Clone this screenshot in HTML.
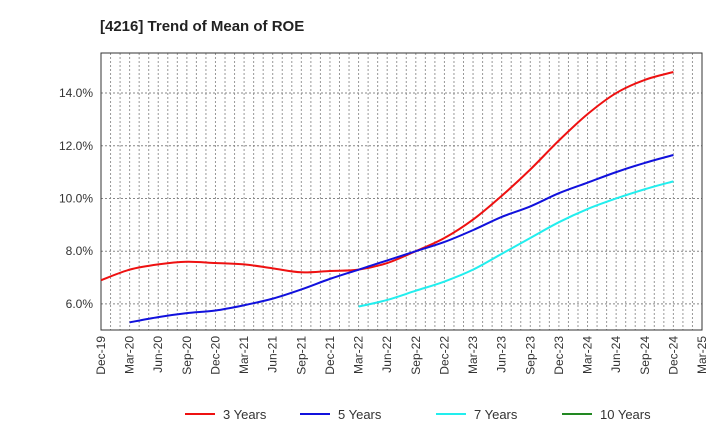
<!DOCTYPE html>
<html><head><meta charset="utf-8"><style>
body{margin:0;background:#fff;font-family:"Liberation Sans",Arial,sans-serif;}
svg text{font-family:"Liberation Sans",Arial,sans-serif;}
</style></head><body>
<svg id="c" width="720" height="440" xmlns="http://www.w3.org/2000/svg">
<text x="100" y="31" font-size="15" font-weight="bold" fill="#222">[4216]  Trend of Mean of ROE</text>
<g id="grid"></g><g id="axes"></g><g id="series"></g><g id="legend"></g>
</svg>
<script>
const quarterLabels=["Dec-19","Mar-20","Jun-20","Sep-20","Dec-20","Mar-21","Jun-21","Sep-21","Dec-21","Mar-22","Jun-22","Sep-22","Dec-22","Mar-23","Jun-23","Sep-23","Dec-23","Mar-24","Jun-24","Sep-24","Dec-24","Mar-25"];
const yTicks=[6,8,10,12,14];
const s3=[6.9,7.3,7.5,7.6,7.55,7.5,7.35,7.2,7.25,7.3,7.55,8.0,8.5,9.2,10.1,11.1,12.2,13.2,14.0,14.5,14.8];
const s5=[null,5.3,5.5,5.65,5.75,5.95,6.2,6.55,6.95,7.3,7.65,8.0,8.35,8.8,9.3,9.7,10.2,10.6,11.0,11.35,11.65];
const s7=[null,null,null,null,null,null,null,null,null,5.9,6.15,6.5,6.85,7.3,7.9,8.5,9.1,9.6,10.0,10.35,10.65];
const s10=[];
const seriesNames=["3 Years","5 Years","7 Years","10 Years"];
const colors=["#ee1111","#1111dd","#22eeee","#228822"];
const L=101,R=702,T=53,B=330,yMin=5.01,yMax=15.52,nQ=21;
const NS="http://www.w3.org/2000/svg";
const xs=q=>L+(R-L)*q/nQ;
const ys=v=>B-(v-yMin)/(yMax-yMin)*(B-T);
function mk(tag,attrs,parent){const e=document.createElementNS(NS,tag);for(const k in attrs)e.setAttribute(k,attrs[k]);parent.appendChild(e);return e;}
const grid=document.getElementById('grid'),axes=document.getElementById('axes'),ser=document.getElementById('series'),leg=document.getElementById('legend');
for(let m=1;m<nQ*3;m++){const x=L+(R-L)*m/(nQ*3);const l=mk('line',{x1:x,x2:x,y1:T,y2:B,stroke:'#999','stroke-dasharray':'2,2','stroke-width':1},grid);

}
yTicks.forEach(v=>{const y=ys(v);const l=mk('line',{x1:L,x2:R,y1:y,y2:y,stroke:'#888','stroke-dasharray':'2,2'},grid);


const t=mk('text',{x:L-8,y:y+4,'text-anchor':'end','font-size':12,fill:'#333'},axes);t.textContent=v.toFixed(1)+'%';

});
const fr=mk('rect',{x:L,y:T,width:R-L,height:B-T,fill:'none',stroke:'#333','stroke-width':1},axes);


quarterLabels.forEach((lab,i)=>{const x=xs(i);const t=mk('text',{transform:`translate(${x+4},${B+6}) rotate(-90)`,'text-anchor':'end','font-size':12,fill:'#333'},axes);t.textContent=lab;

});
function path(arr){let pts=[];arr.forEach((v,i)=>{if(v!=null)pts.push([xs(i),ys(v)]);});if(pts.length<2)return '';
let d=`M${pts[0][0]},${pts[0][1]}`;for(let i=0;i<pts.length-1;i++){const p0=pts[i-1]||pts[i],p1=pts[i],p2=pts[i+1],p3=pts[i+2]||p2;
d+=` C${p1[0]+(p2[0]-p0[0])/6},${p1[1]+(p2[1]-p0[1])/6} ${p2[0]-(p3[0]-p1[0])/6},${p2[1]-(p3[1]-p1[1])/6} ${p2[0]},${p2[1]}`;}return d;}
[s3,s5,s7,s10].forEach((s,i)=>{const d=path(s);if(!d)return;const p=mk('path',{d:d,fill:'none',stroke:colors[i],'stroke-width':2},ser);

});
const lx=[185,300,436,562];
seriesNames.forEach((n,i)=>{const g=mk('g',{},leg);


mk('line',{x1:lx[i],x2:lx[i]+30,y1:414,y2:414,stroke:colors[i],'stroke-width':2},g);
const t=mk('text',{x:lx[i]+38,y:419,'font-size':13,fill:'#333'},g);t.textContent=n;});
</script>
</body></html>
